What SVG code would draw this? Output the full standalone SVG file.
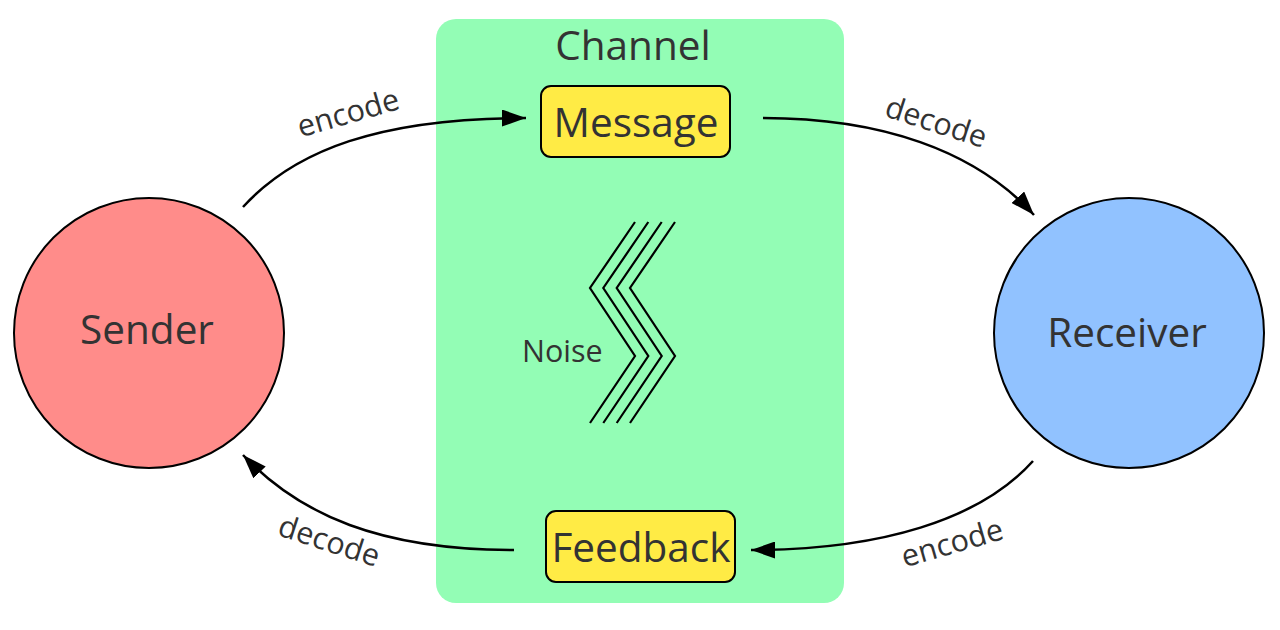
<svg xmlns="http://www.w3.org/2000/svg" width="1280" height="630" viewBox="0 0 1280 630">
  <style>
    text { font-family: "Open Sans", "Noto Sans", "Liberation Sans", sans-serif; fill: #333333; }
    .big { font-size: 40.5px; text-anchor: middle; }
    .lbl { font-size: 30.5px; text-anchor: middle; }
    .box { fill: #ffeb45; stroke: #000; stroke-width: 2; }
    .edge { fill: none; stroke: #000; stroke-width: 2.5; marker-end: url(#arrow); }
    .noise { fill: none; stroke: #000; stroke-width: 2.2; }
  </style>
  <defs>
    <marker id="arrow" viewBox="0 0 24 17" refX="24" refY="8.5" markerWidth="24" markerHeight="17" markerUnits="userSpaceOnUse" orient="auto">
      <path d="M0,0 L24,8.5 L0,17 z" fill="#000"/>
    </marker>
  </defs>
  <rect width="1280" height="630" fill="#ffffff"/>

  <g id="channel">
    <rect x="436" y="19" width="408" height="584" rx="20" fill="#93fdb5"/>
    <text class="big" x="633" y="60">Channel</text>
  </g>

  <g id="sender">
    <circle cx="149" cy="333" r="135" fill="#ff8c8a" stroke="#000" stroke-width="2"/>
    <text class="big" x="147" y="344">Sender</text>
  </g>

  <g id="receiver">
    <circle cx="1129" cy="333" r="135" fill="#91c2ff" stroke="#000" stroke-width="2"/>
    <text class="big" x="1127" y="347">Receiver</text>
  </g>

  <g id="message">
    <rect class="box" x="541" y="86" width="189" height="71" rx="10"/>
    <text class="big" x="636" y="137">Message</text>
  </g>

  <g id="feedback">
    <rect class="box" x="546" y="511" width="189" height="71" rx="10"/>
    <text class="big" x="641" y="562">Feedback</text>
  </g>

  <g id="noise">
    <text x="522" y="362" font-size="30.5">Noise</text>
    <path class="noise" d="M635,222 L590,288 L635,356 L590,423"/>
    <path class="noise" d="M648.3,222 L603.3,288 L648.3,356 L603.3,423"/>
    <path class="noise" d="M661.7,222 L616.7,288 L661.7,356 L616.7,423"/>
    <path class="noise" d="M675,222 L630,288 L675,356 L630,423"/>
  </g>

  <g id="connectors">
    <path class="edge" d="M243,207 C295,150 380,118 526,118"/>
    <path class="edge" d="M763,118 C880,118 975,150 1034,215"/>
    <path class="edge" d="M1033,461 C980,520 880,550 751,550"/>
    <path class="edge" d="M514,550 C380,550 300,515 243,455"/>
    <text class="lbl" transform="translate(351,123) rotate(-16)">encode</text>
    <text class="lbl" transform="translate(933,132) rotate(18)">decode</text>
    <text class="lbl" transform="translate(955,553) rotate(-16)">encode</text>
    <text class="lbl" transform="translate(326,551) rotate(18)">decode</text>
  </g>
</svg>
